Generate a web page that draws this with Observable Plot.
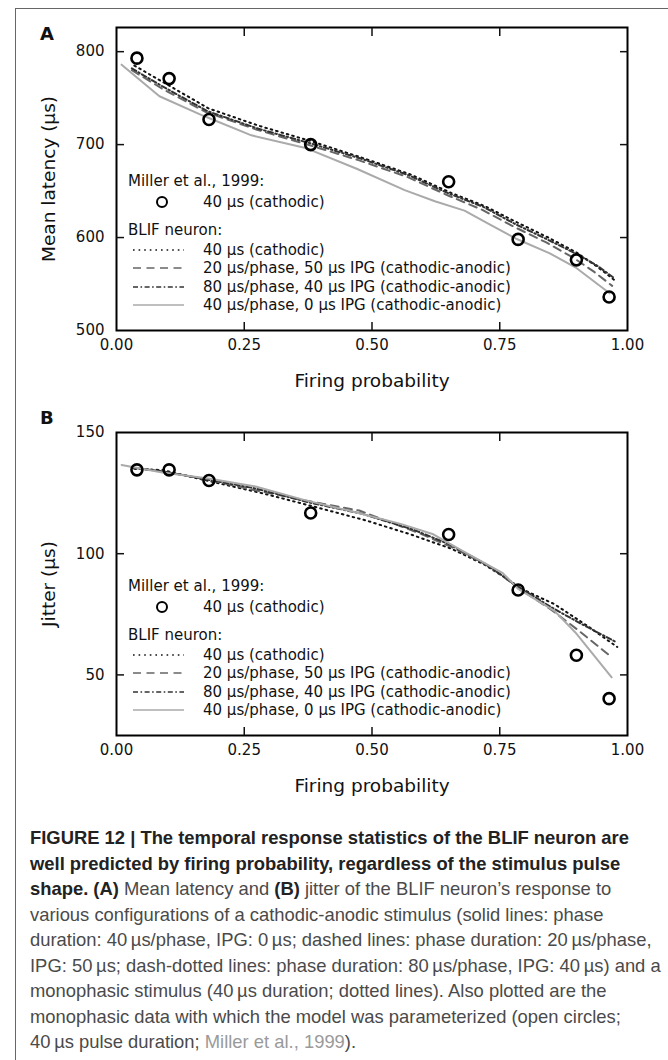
<!DOCTYPE html>
<html>
<head>
<meta charset="utf-8">
<script src="https://cdn.jsdelivr.net/npm/d3@7"></script>
<script src="https://cdn.jsdelivr.net/npm/@observablehq/plot@0.6"></script>
<style>
  html, body { margin: 0; padding: 0; background: #fff; }
  #page { position: relative; width: 668px; height: 1060px; overflow: hidden; font-family: "DejaVu Sans", sans-serif; }
  #outer { position: absolute; left: 15px; top: 8px; right: -20px; bottom: -20px; border-left: 1.5px solid #666; border-top: 1.5px solid #666; }
  .panel { position: absolute; left: 0; width: 668px; }
  .plabel { position: absolute; left: 40px; font: bold 18px "DejaVu Sans", sans-serif; color: #111; }
  .legend { position: absolute; left: 0; top: 0; font: 15px "DejaVu Sans", sans-serif; color: #111; }
  .legend div { position: absolute; white-space: nowrap; line-height: 18px; transform: translateY(-50%); }
  .legend svg { position: absolute; overflow: visible; }
  #caption { position: absolute; left: 30px; top: 825px; width: 636px; font: 18.4px "Liberation Sans", Arial, sans-serif; line-height: 25.5px; color: #4a4a4a; white-space: nowrap; }
  #caption b { color: #222; }
  #caption .ref { color: #9a9a9a; }
</style>
</head>
<body>
<div id="page">
  <div id="outer"></div>
  <div class="panel" id="panelA" style="top:0px;height:395px"></div>
  <div class="panel" id="panelB" style="top:395px;height:410px"></div>
  <div id="caption">
    <b>FIGURE 12 | The temporal response statistics of the BLIF neuron are</b><br>
    <b>well predicted by firing probability, regardless of the stimulus pulse</b><br>
    <b>shape. (A)</b> Mean latency and <b>(B)</b> jitter of the BLIF neuron’s response to<br>
    various configurations of a cathodic-anodic stimulus (solid lines: phase<br>
    duration: 40&#8201;µs/phase, IPG: 0&#8201;µs; dashed lines: phase duration: 20&#8201;µs/phase,<br>
    IPG: 50&#8201;µs; dash-dotted lines: phase duration: 80&#8201;µs/phase, IPG: 40&#8201;µs) and a<br>
    monophasic stimulus (40&#8201;µs duration; dotted lines). Also plotted are the<br>
    monophasic data with which the model was parameterized (open circles;<br>
    40&#8201;µs pulse duration; <span class="ref">Miller et al., 1999</span>).
  </div>
</div>
<script>
// ---------- data ----------
const xTickLabels = [0, 0.25, 0.5, 0.75, 1];
const xInnerTicks = [0.25, 0.5, 0.75];
const yTickLabelsA = [500, 600, 700, 800];
const yInnerTicksA = [600, 700, 800];
const yTickLabelsB = [50, 100, 150];
const yInnerTicksB = [50, 100];

// Miller et al., 1999 (open circles)
const millerP = [0.040, 0.103, 0.181, 0.380, 0.650, 0.786, 0.900, 0.964];
const millerLatency = [793, 771, 727, 700, 660, 598, 576, 536];
const millerJitter = [134.6, 134.6, 130.2, 116.8, 107.9, 85.0, 58.1, 40.2];

// Panel A: mean latency of BLIF neuron
const latDottedP = [0.035, 0.095, 0.18, 0.28, 0.385, 0.48, 0.575, 0.655, 0.72, 0.785, 0.845, 0.90, 0.94, 0.975];
const latDottedY = [785, 766, 739, 720, 703, 686, 668, 648, 634, 616, 600, 584, 569, 554];
const latDashedP = [0.03, 0.09, 0.175, 0.275, 0.38, 0.475, 0.57, 0.65, 0.715, 0.78, 0.84, 0.895, 0.935, 0.97];
const latDashedY = [780, 760, 735, 716, 699, 683, 665, 645, 630, 611, 595, 578, 563, 548];
const latDashDotP = [0.03, 0.092, 0.178, 0.278, 0.382, 0.478, 0.572, 0.652, 0.718, 0.782, 0.843, 0.898, 0.94, 0.975];
const latDashDotY = [782, 762, 736, 717, 701, 685, 667, 647, 633, 614, 598, 583, 570, 556];
const latSolidP = [0.010, 0.084, 0.17, 0.264, 0.372, 0.47, 0.564, 0.623, 0.681, 0.731, 0.781, 0.848, 0.898, 0.965];
const latSolidY = [786, 752, 731, 710, 696, 674, 651, 639, 629, 614, 599, 583, 568, 540];

// Panel B: jitter of BLIF neuron
const jitDottedP = [0.035, 0.09, 0.18, 0.29, 0.385, 0.49, 0.575, 0.656, 0.72, 0.757, 0.786, 0.857, 0.923, 0.98];
const jitDottedY = [135, 134.5, 130, 124.7, 119.5, 113.6, 108, 102, 95.5, 90.6, 86.1, 79.2, 70, 61.5];
const jitDashedP = [0.03, 0.09, 0.18, 0.255, 0.405, 0.475, 0.597, 0.663, 0.73, 0.786, 0.85, 0.9, 0.965];
const jitDashedY = [135.5, 134, 130.5, 126.9, 120.5, 117.8, 108.1, 102, 94.7, 86, 77, 69, 58];
const jitDashDotP = [0.03, 0.09, 0.18, 0.27, 0.38, 0.48, 0.58, 0.65, 0.72, 0.786, 0.85, 0.91, 0.978];
const jitDashDotY = [135.5, 134, 130.5, 127, 121, 116.5, 110, 104, 96, 86.5, 78, 71, 63.5];
const jitSolidP = [0.010, 0.09, 0.18, 0.272, 0.372, 0.46, 0.556, 0.62, 0.677, 0.756, 0.786, 0.857, 0.898, 0.969];
const jitSolidY = [136.6, 133.5, 131, 127.7, 121.9, 117.5, 112.3, 108, 101.2, 92, 85.5, 76.4, 67.5, 49];

const legendHeader1 = "Miller et al., 1999:";
const legendHeader2 = "BLIF neuron:";
const legendMiller = "40 µs (cathodic)";
const seriesLabels = [
  "40 µs (cathodic)",
  "20 µs/phase, 50 µs IPG (cathodic-anodic)",
  "80 µs/phase, 40 µs IPG (cathodic-anodic)",
  "40 µs/phase, 0 µs IPG (cathodic-anodic)"
];

// ---------- styles ----------
const styles = [
  {stroke: "#111", strokeWidth: 2, strokeDasharray: "1.6,4"},
  {stroke: "#666", strokeWidth: 2, strokeDasharray: "8,5.5"},
  {stroke: "#333", strokeWidth: 2, strokeDasharray: "5,2.5,1.6,2.5"},
  {stroke: "#aaa", strokeWidth: 2, strokeDasharray: null}
];

const zip = (xs, ys) => xs.map((x, i) => ({x, y: ys[i]}));
const TICK = 8;

function panel({series, miller, yDomain, yLabels, yInner, yTitle, height, marginTop, marginBottom}) {
  const common = {fontSize: 15};
  const tickOnly = {tickSize: TICK, tickFormat: () => "", label: null, strokeWidth: 1.5};
  return Plot.plot({
    width: 668,
    height,
    marginLeft: 116,
    marginRight: 41,
    marginTop,
    marginBottom,
    style: {fontFamily: "DejaVu Sans", fontSize: "15px", color: "#111", background: "transparent", overflow: "visible"},
    x: {domain: [0, 1]},
    y: {domain: yDomain},
    marks: [
      ...series.map((s, i) => Plot.line(s, {x: "x", y: "y", ...styles[i]})),
      Plot.dot(miller, {x: "x", y: "y", r: 5.5, stroke: "#000", strokeWidth: 2.6, fill: "none"}),
      Plot.frame({stroke: "#000", strokeWidth: 2}),
      // tick labels
      Plot.axisX(xTickLabels, {anchor: "bottom", tickSize: 0, tickPadding: 9, tickFormat: d3.format(".2f"), label: null, ...common}),
      Plot.axisY(yLabels, {anchor: "left", tickSize: 0, tickPadding: 12, tickFormat: d3.format("d"), label: null, ...common}),
      // inward ticks on all four sides
      Plot.axisX(xInnerTicks, {anchor: "bottom", dy: -TICK, ...tickOnly}),
      Plot.axisX(xInnerTicks, {anchor: "top", dy: TICK, ...tickOnly}),
      Plot.axisY(yInner, {anchor: "left", dx: TICK, ...tickOnly}),
      Plot.axisY(yInner, {anchor: "right", dx: -TICK, ...tickOnly}),
      // axis titles
      Plot.axisX([], {anchor: "bottom", tickSize: 0, label: "Firing probability", labelAnchor: "center", labelOffset: 56, labelArrow: "none", fontSize: 18.5}),
      Plot.axisY([], {anchor: "left", tickSize: 0, label: yTitle, labelAnchor: "center", labelOffset: 75, labelArrow: "none", fontSize: 18.5})
    ]
  });
}

function legend(container, frameTop) {
  const lg = document.createElement("div");
  lg.className = "legend";
  const add = (html, x, y) => {
    const d = document.createElement("div");
    d.style.left = x + "px"; d.style.top = (frameTop + y) + "px";
    d.textContent = html;
    lg.appendChild(d);
  };
  add(legendHeader1, 128, 154);
  add(legendMiller, 203, 175);
  add(legendHeader2, 128, 203);
  const rowY = [223, 241, 260, 278];
  seriesLabels.forEach((t, i) => add(t, 203, rowY[i]));
  const svgNS = "http://www.w3.org/2000/svg";
  const svg = document.createElementNS(svgNS, "svg");
  svg.setAttribute("width", 668); svg.setAttribute("height", 400);
  svg.style.left = "0px"; svg.style.top = "0px";
  const c = document.createElementNS(svgNS, "circle");
  c.setAttribute("cx", 162); c.setAttribute("cy", frameTop + 175); c.setAttribute("r", 5);
  c.setAttribute("fill", "none"); c.setAttribute("stroke", "#000"); c.setAttribute("stroke-width", 2);
  svg.appendChild(c);
  styles.forEach((s, i) => {
    const l = document.createElementNS(svgNS, "line");
    l.setAttribute("x1", 133); l.setAttribute("x2", 184);
    l.setAttribute("y1", frameTop + rowY[i]); l.setAttribute("y2", frameTop + rowY[i]);
    l.setAttribute("stroke", s.stroke); l.setAttribute("stroke-width", 1.6);
    if (s.strokeDasharray) l.setAttribute("stroke-dasharray", s.strokeDasharray);
    svg.appendChild(l);
  });
  lg.appendChild(svg);
  container.appendChild(lg);
}

const A = document.getElementById("panelA");
A.appendChild(panel({
  series: [zip(latDottedP, latDottedY), zip(latDashedP, latDashedY), zip(latDashDotP, latDashDotY), zip(latSolidP, latSolidY)],
  miller: zip(millerP, millerLatency),
  yDomain: [500, 826], yLabels: yTickLabelsA, yInner: yInnerTicksA,
  yTitle: "Mean latency (µs)", height: 395, marginTop: 27, marginBottom: 65
}));
legend(A, 27);
const la = document.createElement("div"); la.className = "plabel"; la.style.top = "23px"; la.textContent = "A"; A.appendChild(la);

const B = document.getElementById("panelB");
B.appendChild(panel({
  series: [zip(jitDottedP, jitDottedY), zip(jitDashedP, jitDashedY), zip(jitDashDotP, jitDashDotY), zip(jitSolidP, jitSolidY)],
  miller: zip(millerP, millerJitter),
  yDomain: [25, 150], yLabels: yTickLabelsB, yInner: yInnerTicksB,
  yTitle: "Jitter (µs)", height: 410, marginTop: 37, marginBottom: 70
}));
legend(B, 37);
const lb = document.createElement("div"); lb.className = "plabel"; lb.style.top = "12px"; lb.textContent = "B"; B.appendChild(lb);
</script>
</body>
</html>
